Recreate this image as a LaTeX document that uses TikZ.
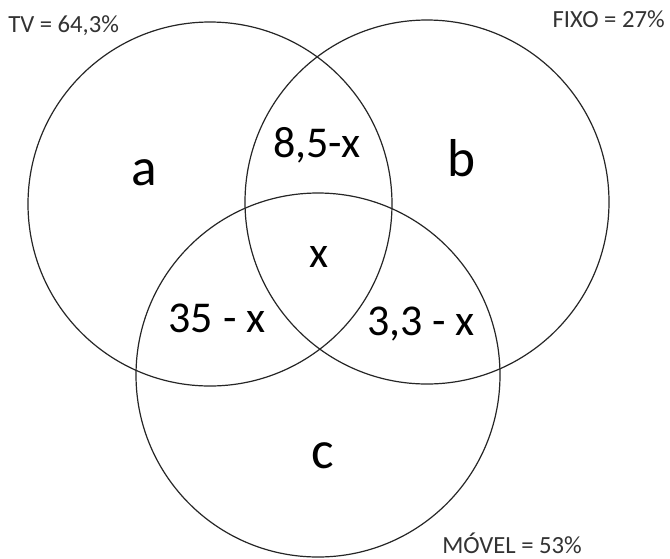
\documentclass[tikz,border=0pt]{standalone}
\usepackage{fontspec}
\setmainfont{Carlito}
\begin{document}
\begin{tikzpicture}[x=0.75pt,y=-0.75pt,
  setcircle/.style={circle,draw=black!85,line width=0.9pt,minimum size=273pt,inner sep=0pt,outer sep=0pt},
  small/.style={font=\fontsize{18.5}{20}\selectfont,text=black!80,inner sep=0pt},
  region/.style={font=\fontsize{33}{36}\selectfont,text=black,inner sep=0pt,anchor=base},
  letter/.style={font=\fontsize{40}{44}\selectfont,text=black,inner sep=0pt,anchor=base}]
\useasboundingbox[fill=white] (0,0) rectangle (670,558);
\node[setcircle] (tv) at (210,204) {};
\node[setcircle] (fixo) at (427,202) {};
\node[setcircle] (movel) at (318,375) {};
\node[small,anchor=base west] (ltv) at (8,32) {TV = 64,3\%};
\node[small,anchor=base east] (lfixo) at (665,27) {FIXO = 27\%};
\node[small,anchor=base west] (lmovel) at (442,553) {MÓVEL = 53\%};
\node[letter] (la) at (144,185) {a};
\node[letter] (lb) at (462,176) {b};
\node[letter] (lc) at (323,468) {c};
\node[region] (rab) at (317,157) {8,5-x};
\node[region] (rabc) at (319,267) {x};
\node[region] (rac) at (217,332) {35 - x};
\node[region] (rbc) at (421,335) {3,3 - x};
\end{tikzpicture}
\end{document}
